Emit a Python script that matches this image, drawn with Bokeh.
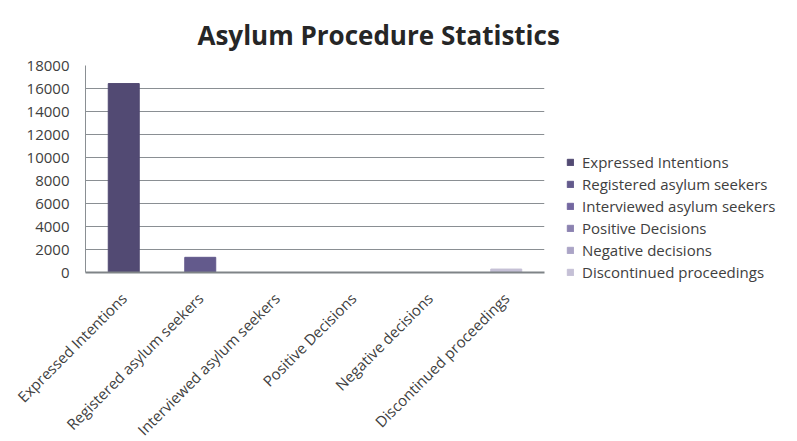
import math
from bokeh.plotting import figure
from bokeh.models import FixedTicker, ColumnDataSource, FactorRange, Legend, LegendItem
from bokeh.embed import file_html
from bokeh.resources import INLINE

# Asylum procedure figures
categories = [
    "Expressed Intentions",
    "Registered asylum seekers",
    "Interviewed asylum seekers",
    "Positive Decisions",
    "Negative decisions",
    "Discontinued proceedings",
]
counts = [16430, 1320, 0, 0, 0, 300]
colors = ["#524a73", "#635a8c", "#7367a0", "#8b82b0", "#aba4c6", "#c5c0d6"]
y_ticks = [0, 2000, 4000, 6000, 8000, 10000, 12000, 14000, 16000, 18000]

FONT = "Open Sans"
TEXT = "#404040"
GRID = "#8a8f93"

p = figure(
    frame_width=459, frame_height=207,
    x_range=FactorRange(*categories, range_padding=0),
    y_range=(0, 18000),
    output_backend="svg", toolbar_location=None, tools="",
    title="Asylum Procedure Statistics",
    min_border_left=85, min_border_right=0, min_border_top=65, min_border_bottom=169,
)

# one bar renderer per category so each gets its own legend entry
items = []
for cat, val, col in zip(categories, counts, colors):
    src = ColumnDataSource(dict(cat=[cat], value=[val]))
    r = p.vbar(x="cat", top="value", width=0.405, color=col, source=src)
    items.append(LegendItem(label=cat, renderers=[r]))

p.title.text_font = FONT
p.title.text_font_size = "26px"
p.title.text_font_style = "bold"
p.title.text_color = "#262626"
p.title.align = "left"
p.title.offset = 112
p.title.standoff = 26

p.outline_line_color = None
p.background_fill_color = "white"
p.border_fill_color = "white"

p.xgrid.grid_line_color = None
p.ygrid.grid_line_color = GRID
p.ygrid.grid_line_width = 1

p.yaxis.ticker = FixedTicker(ticks=y_ticks)
p.yaxis.axis_line_color = GRID
p.yaxis.axis_line_width = 1
p.yaxis.major_tick_line_color = None
p.yaxis.minor_tick_line_color = None
p.yaxis.major_label_standoff = 10
p.yaxis.major_label_text_font = FONT
p.yaxis.major_label_text_font_size = "15px"
p.yaxis.major_label_text_color = TEXT

p.xaxis.axis_line_color = "#7f8487"
p.xaxis.axis_line_width = 2
p.xaxis.major_tick_line_color = None
p.xaxis.minor_tick_line_color = None
p.xaxis.major_label_orientation = math.radians(45)
p.xaxis.major_label_standoff = 17
p.xaxis.major_label_text_font = FONT
p.xaxis.major_label_text_font_size = "15px"
p.xaxis.major_label_text_color = TEXT

# legend in the right-hand panel; the blank heading pushes the entries down
leg = Legend(items=items, location="top_left")
leg.title = " "
leg.title_text_font_size = "10px"
leg.title_standoff = 54
leg.padding = 0
leg.margin = 22
leg.spacing = 2
leg.label_height = 16
leg.glyph_width = 8
leg.glyph_height = 8
leg.label_standoff = 8
leg.label_text_font = FONT
leg.label_text_font_size = "15px"
leg.label_text_color = TEXT
leg.background_fill_alpha = 0
leg.border_line_color = None
p.add_layout(leg, "right")

open("out.html", "w").write(file_html(p, INLINE))
